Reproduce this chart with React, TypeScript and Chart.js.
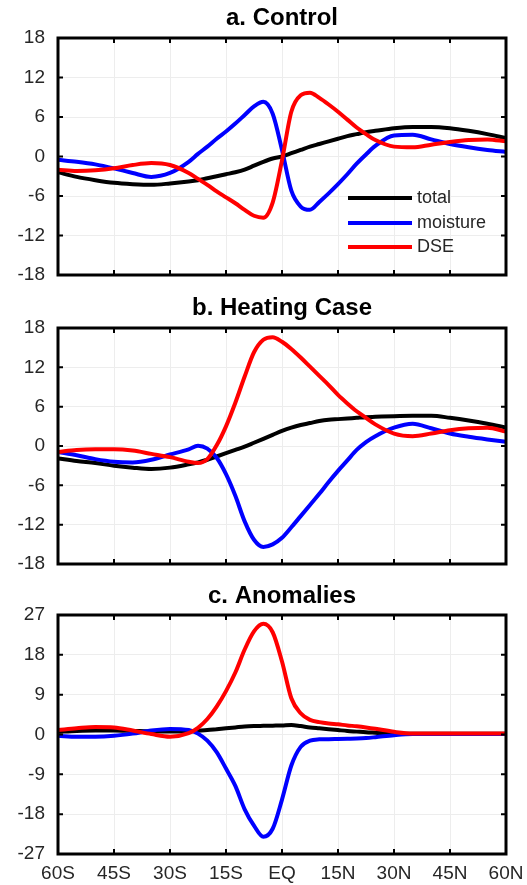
import React, { useEffect, useRef } from 'react';
import { Chart, registerables } from 'chart.js';

Chart.register(...registerables);

// Latitude grid (negative = south)
const lats = [-60, -55, -50, -45, -40, -35, -30, -25, -22.5, -20, -17.5, -15, -12.5, -10, -7.5, -5, -2.5, 0, 2.5, 5, 7.5, 10, 12.5, 15, 17.5, 20, 22.5, 25, 30, 35, 40, 45, 50, 55, 60];

const xTickLabels = ['60S', '45S', '30S', '15S', 'EQ', '15N', '30N', '45N', '60N'];
const seriesNames = ['total', 'moisture', 'DSE'];
const seriesColors = ['#000000', '#0000ff', '#ff0000'];
const panelTitles = ['a. Control', 'b. Heating Case', 'c. Anomalies'];

// a. Control
const ctrlTotal = [-2.4, -3.1, -3.6, -4.0, -4.2, -4.3, -4.1, -3.8, -3.6, -3.3, -3.0, -2.7, -2.4, -2.0, -1.4, -0.8, -0.3, 0.0, 0.5, 1.0, 1.5, 1.9, 2.3, 2.7, 3.1, 3.4, 3.7, 3.9, 4.3, 4.5, 4.5, 4.3, 3.9, 3.4, 2.8];
const ctrlMoist = [-0.5, -0.8, -1.2, -1.8, -2.5, -3.1, -2.5, -0.8, 0.4, 1.5, 2.7, 3.8, 5.0, 6.3, 7.6, 8.3, 6.5, 1.0, -5.2, -7.6, -8.1, -6.9, -5.6, -4.2, -2.7, -1.1, 0.3, 1.6, 3.2, 3.3, 2.6, 1.9, 1.4, 1.0, 0.7];
const ctrlDSE = [-2.0, -2.2, -2.1, -1.8, -1.3, -1.0, -1.3, -2.5, -3.4, -4.3, -5.3, -6.2, -7.1, -8.1, -9.0, -9.3, -7.0, -0.6, 6.8, 9.3, 9.7, 8.9, 7.9, 6.8, 5.6, 4.4, 3.4, 2.5, 1.5, 1.4, 1.8, 2.2, 2.5, 2.6, 2.3];

// b. Heating Case
const heatTotal = [-1.9, -2.3, -2.6, -3.0, -3.3, -3.5, -3.3, -2.8, -2.5, -2.1, -1.6, -1.1, -0.6, -0.1, 0.5, 1.1, 1.7, 2.3, 2.8, 3.2, 3.5, 3.8, 4.0, 4.1, 4.2, 4.3, 4.4, 4.45, 4.55, 4.6, 4.6, 4.3, 3.9, 3.4, 2.8];
const heatMoist = [-0.9, -1.4, -2.0, -2.4, -2.5, -2.1, -1.3, -0.5, 0.05, -0.4, -1.8, -4.3, -7.6, -11.5, -14.3, -15.4, -15.0, -14.0, -12.4, -10.7, -9.0, -7.3, -5.5, -3.8, -2.2, -0.6, 0.6, 1.5, 2.8, 3.4, 2.7, 1.9, 1.4, 1.0, 0.65];
const heatDSE = [-0.9, -0.6, -0.5, -0.5, -0.7, -1.2, -1.7, -2.4, -2.6, -2.0, 0.1, 3.0, 6.6, 10.6, 14.3, 16.2, 16.6, 15.9, 14.8, 13.5, 12.1, 10.7, 9.3, 7.8, 6.5, 5.3, 4.3, 3.3, 1.9, 1.5, 1.9, 2.4, 2.7, 2.8, 2.2];

// c. Anomalies
const anomTotal = [0.6, 0.8, 0.9, 0.9, 0.8, 0.7, 0.65, 0.7, 0.85, 1.0, 1.2, 1.4, 1.6, 1.8, 1.9, 1.95, 2.0, 2.05, 2.15, 1.9, 1.6, 1.4, 1.2, 1.0, 0.8, 0.65, 0.5, 0.4, 0.2, 0.15, 0.15, 0.15, 0.15, 0.15, 0.15];
const anomMoist = [-0.3, -0.5, -0.5, -0.3, 0.2, 0.9, 1.25, 1.0, 0.2, -1.4, -4.0, -7.7, -11.6, -16.9, -20.6, -23.1, -21.3, -14.7, -7.0, -2.8, -1.4, -1.1, -1.05, -1.0, -0.95, -0.9, -0.8, -0.6, -0.15, 0.1, 0.1, 0.1, 0.1, 0.1, 0.1];
const anomDSE = [1.0, 1.4, 1.7, 1.6, 0.9, 0.1, -0.5, 0.3, 1.5, 3.5, 6.3, 9.8, 14.0, 19.2, 23.3, 25.0, 23.1, 16.5, 8.2, 4.8, 3.3, 2.8, 2.5, 2.3, 2.05, 1.85, 1.6, 1.3, 0.6, 0.2, 0.2, 0.2, 0.2, 0.2, 0.2];

const FONT = "'Liberation Sans', Arial, sans-serif";
const TEXT = '#262626';
const GRID = '#ededed';

const framePlugin = {
  id: 'frame',
  afterDraw(chart: any) {
    const { ctx, chartArea, scales } = chart;
    const { left, right, top, bottom } = chartArea;
    ctx.save();
    ctx.strokeStyle = '#000';
    ctx.lineWidth = 2;
    const tl = 5;
    scales.x.ticks.forEach((t: any) => {
      const px = scales.x.getPixelForValue(t.value);
      if (px <= left + 1 || px >= right - 1) return;
      ctx.beginPath();
      ctx.moveTo(px, bottom);
      ctx.lineTo(px, bottom - tl);
      ctx.moveTo(px, top);
      ctx.lineTo(px, top + tl);
      ctx.stroke();
    });
    scales.y.ticks.forEach((t: any) => {
      const py = scales.y.getPixelForValue(t.value);
      if (py <= top + 1 || py >= bottom - 1) return;
      ctx.beginPath();
      ctx.moveTo(left, py);
      ctx.lineTo(left + tl, py);
      ctx.moveTo(right, py);
      ctx.lineTo(right - tl, py);
      ctx.stroke();
    });
    ctx.lineWidth = 3;
    ctx.strokeRect(left, top, right - left, bottom - top);
    ctx.restore();
  },
};

const legendPlugin = {
  id: 'innerLegend',
  afterDraw(chart: any) {
    const opts = chart.options.plugins.innerLegend;
    if (!opts || !opts.show) return;
    const { ctx, chartArea } = chart;
    const x0 = chartArea.right - 158;
    const x1 = x0 + 64;
    const rows = [chartArea.bottom - 77, chartArea.bottom - 52, chartArea.bottom - 28];
    ctx.save();
    ctx.font = `18px ${FONT}`;
    ctx.textBaseline = 'middle';
    ctx.textAlign = 'left';
    chart.data.datasets.forEach((ds: any, i: number) => {
      const y = rows[i];
      ctx.strokeStyle = ds.borderColor;
      ctx.lineWidth = 4;
      ctx.beginPath();
      ctx.moveTo(x0, y);
      ctx.lineTo(x1, y);
      ctx.stroke();
      ctx.fillStyle = TEXT;
      ctx.fillText(ds.label, x1 + 5, y);
    });
    ctx.restore();
  },
};

type PanelProps = {
  title: string;
  top: number;
  height: number;
  total: number[];
  moist: number[];
  dse: number[];
  yMin: number;
  yMax: number;
  yStep: number;
  showX: boolean;
  legend: boolean;
  xHeight: number;
  titlePad: { top: number; bottom: number };
};

function Panel(p: PanelProps) {
  const ref = useRef<HTMLCanvasElement>(null);
  useEffect(() => {
    const mk = (vals: number[]) => lats.map((x, i) => ({ x, y: vals[i] }));
    const series = [p.total, p.moist, p.dse];
    const chart = new Chart(ref.current as HTMLCanvasElement, {
      type: 'line',
      data: {
        datasets: series.map((vals, i) => ({
          label: seriesNames[i],
          data: mk(vals),
          borderColor: seriesColors[i],
          backgroundColor: seriesColors[i],
          order: 2 - i,
          borderWidth: 4,
          pointRadius: 0,
          cubicInterpolationMode: 'monotone' as const,
          fill: false,
        })),
      },
      options: {
        animation: false,
        responsive: false,
        devicePixelRatio: 1,
        layout: { padding: { left: 0, right: 21, top: 0, bottom: 0 } },
        plugins: {
          legend: { display: false },
          tooltip: { enabled: false },
          title: {
            display: true,
            text: p.title,
            fullSize: false,
            color: '#000',
            font: { family: FONT, size: 24, weight: 'bold' },
            padding: p.titlePad,
          },
          innerLegend: { show: p.legend },
        } as any,
        scales: {
          x: {
            type: 'linear',
            min: -60,
            max: 60,
            ticks: {
              stepSize: 15,
              display: p.showX,
              autoSkip: false,
              maxRotation: 0,
              padding: 8,
              color: TEXT,
              font: { family: FONT, size: 19 },
              callback: (v: any) => xTickLabels[Math.round((Number(v) + 60) / 15)],
            },
            grid: { color: GRID, drawTicks: false, lineWidth: 1 },
            border: { display: false },
            afterFit: (s: any) => {
              s.height = p.xHeight;
              s.paddingLeft = 0;
              s.paddingRight = 0;
            },
          },
          y: {
            type: 'linear',
            min: p.yMin,
            max: p.yMax,
            ticks: {
              stepSize: p.yStep,
              padding: 13,
              color: TEXT,
              font: { family: FONT, size: 19 },
            },
            grid: { color: GRID, drawTicks: false, lineWidth: 1 },
            border: { display: false },
            afterFit: (s: any) => {
              s.width = 58;
              s.paddingTop = 0;
              s.paddingBottom = 0;
            },
          },
        },
      },
      plugins: [framePlugin, legendPlugin],
    } as any);
    return () => chart.destroy();
  }, []);
  return (
    <canvas
      ref={ref}
      width={527}
      height={p.height}
      style={{ position: 'absolute', left: 0, top: p.top, width: 527, height: p.height }}
    />
  );
}

export default function App() {
  return (
    <div style={{ position: 'absolute', left: 0, top: 0, width: 527, height: 885, background: '#fff' }}>
      <Panel title={panelTitles[0]} top={0} height={290} total={ctrlTotal} moist={ctrlMoist} dse={ctrlDSE}
        yMin={-18} yMax={18} yStep={6} showX={false} legend={true} xHeight={15} titlePad={{ top: 4, bottom: 5.2 }} />
      <Panel title={panelTitles[1]} top={290} height={290} total={heatTotal} moist={heatMoist} dse={heatDSE}
        yMin={-18} yMax={18} yStep={6} showX={false} legend={false} xHeight={16} titlePad={{ top: 4, bottom: 5.2 }} />
      <Panel title={panelTitles[2]} top={580} height={305} total={anomTotal} moist={anomMoist} dse={anomDSE}
        yMin={-27} yMax={27} yStep={9} showX={true} legend={false} xHeight={31} titlePad={{ top: 2, bottom: 4.2 }} />
    </div>
  );
}
